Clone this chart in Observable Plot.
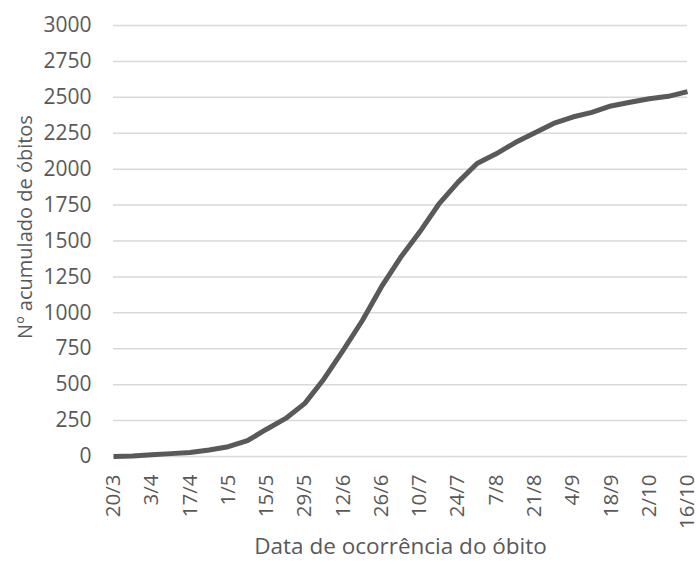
<!DOCTYPE html>
<html>
<head>
<meta charset="utf-8">
<script src="https://cdn.jsdelivr.net/npm/d3@7"></script>
<script src="https://cdn.jsdelivr.net/npm/@observablehq/plot@0.6"></script>
<style>
  html, body { margin: 0; padding: 0; background: #fff; }
  #chart { width: 696px; height: 564px; }
</style>
</head>
<body>
<div id="chart"></div>
<script>
// Dates (day/month, 2020) and cumulative deaths
const dates = ["20/3","27/3","3/4","10/4","17/4","24/4","1/5","8/5","15/5","22/5","29/5",
  "5/6","12/6","19/6","26/6","3/7","10/7","17/7","24/7","31/7","7/8","14/8","21/8","28/8",
  "4/9","11/9","18/9","25/9","2/10","9/10","16/10"];
const deaths = [0, 4, 12, 20, 28, 45, 68, 110, 190, 265, 370,
  540, 738, 945, 1180, 1385, 1562, 1756, 1908, 2039, 2107, 2185, 2252, 2318,
  2363, 2395, 2440, 2466, 2490, 2507, 2540];
const xTickLabels = ["20/3","3/4","17/4","1/5","15/5","29/5","12/6","26/6","10/7","24/7",
  "7/8","21/8","4/9","18/9","2/10","16/10"];
const yTicks = [0,250,500,750,1000,1250,1500,1750,2000,2250,2500,2750,3000];
const xTitle = "Data de ocorrência do óbito";
const yTitle = "Nº acumulado de óbitos";

const parse = s => { const [d, m] = s.split("/").map(Number); return new Date(Date.UTC(2020, m - 1, d)); };
const fmt = d => `${d.getUTCDate()}/${d.getUTCMonth() + 1}`;
const data = dates.map((s, i) => ({date: parse(s), value: deaths[i]}));
const xTicks = xTickLabels.map(parse);

const chart = Plot.plot({
  width: 696,
  height: 564,
  marginLeft: 113,
  marginRight: 9,
  marginTop: 25,
  marginBottom: 108,
  style: {fontFamily: "Open Sans", fontSize: "21px", color: "#595959", background: "#fff"},
  x: {type: "utc", domain: [xTicks[0], xTicks[xTicks.length - 1]]},
  y: {domain: [0, 3000]},
  marks: [
    Plot.gridY(yTicks, {stroke: "#d9d9d9", strokeOpacity: 1, strokeWidth: 1.5}),
    Plot.axisY(yTicks, {tickSize: 0, tickPadding: 22, tickFormat: d => String(d), fontSize: 21,
      label: null, fill: "#595959"}),
    Plot.axisX(xTicks, {tickSize: 0, tickPadding: 18, tickRotate: -90, tickFormat: fmt, fontSize: 20.5,
      label: null, fill: "#595959"}),
    Plot.text([yTitle], {frameAnchor: "left", text: d => d, rotate: -90, dx: -88, dy: -14,
      fontSize: 20, fill: "#595959", textAnchor: "middle", lineAnchor: "middle"}),
    Plot.text([xTitle], {frameAnchor: "bottom", text: d => d, dy: 90,
      fontSize: 22.5, fill: "#595959", textAnchor: "middle", lineAnchor: "middle"}),
    Plot.line(data, {x: "date", y: "value", stroke: "#595959", strokeWidth: 5,
      strokeLinejoin: "round", strokeLinecap: "butt"})
  ]
});
document.getElementById("chart").appendChild(chart);
</script>
</body>
</html>
